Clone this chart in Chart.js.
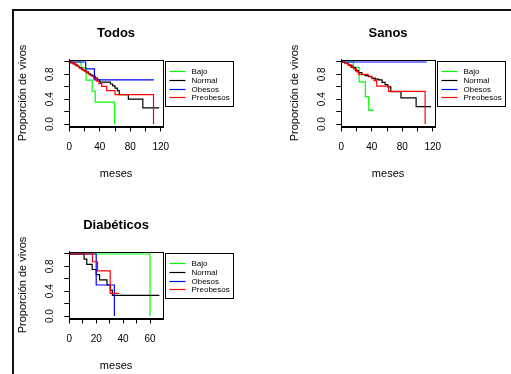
<!DOCTYPE html>
<html><head><meta charset="utf-8">
<script src="https://cdn.jsdelivr.net/npm/chart.js@4.4.1/dist/chart.umd.min.js"></script>
<style>
html,body{margin:0;padding:0;background:#fff;overflow:hidden;width:511px;height:374px;}
#frame{position:absolute;left:12px;top:9px;width:1000px;height:1000px;border:2px solid #111;}
canvas{position:absolute;}
</style></head><body>
<div id="frame"></div>
<canvas id="c1" width="272" height="192" style="left:13px;top:10px"></canvas>
<canvas id="c2" width="272" height="192" style="left:285px;top:10px"></canvas>
<canvas id="c3" width="272" height="192" style="left:13px;top:202px"></canvas>
<script>
const groups = ['Bajo', 'Normal', 'Obesos', 'Preobesos'];
const groupColors = ['#00ff00', '#000000', '#0000ff', '#ff0000'];
const panelTitles = ['Todos', 'Sanos', 'Diabéticos'];
const xAxisTitle = 'meses';
const yAxisTitle = 'Proporción de vivos';

// Todos
const todosBajoT = [0, 15.4, 22, 30, 34, 59.5];
const todosBajoS = [1, 0.909, 0.707, 0.53, 0.354, 0];
const todosNormalT = [0, 2, 5, 8, 11, 13, 16, 19, 22, 25, 28, 31, 34, 37, 40, 54, 57, 60, 63, 65.5, 77.5, 96.5, 118];
const todosNormalS = [1, 0.985, 0.97, 0.95, 0.93, 0.91, 0.88, 0.86, 0.84, 0.81, 0.79, 0.77, 0.74, 0.71, 0.675, 0.645, 0.615, 0.58, 0.537, 0.475, 0.40, 0.26, 0.26];
const todosObesosT = [0, 21.5, 33, 111];
const todosObesosS = [1, 0.889, 0.711, 0.711];
const todosPreobesosT = [0, 4, 7, 10, 13, 17, 20, 23, 26, 29, 32, 36, 39, 42.5, 49, 60, 110.5];
const todosPreobesosS = [1, 0.98, 0.96, 0.93, 0.90, 0.87, 0.85, 0.82, 0.79, 0.77, 0.73, 0.69, 0.65, 0.607, 0.537, 0.473, 0];

// Sanos
const sanosBajoT = [0, 16, 23.5, 31.5, 36, 42.5];
const sanosBajoS = [1, 0.91, 0.68, 0.44, 0.22, 0.22];
const sanosNormalT = [0, 5, 9.5, 14, 18.5, 22.5, 27, 31.5, 36, 40, 44.5, 49, 53.5, 57.5, 61, 65, 78.3, 98.2, 117.7];
const sanosNormalS = [1, 0.978, 0.95, 0.913, 0.86, 0.83, 0.795, 0.78, 0.763, 0.74, 0.725, 0.71, 0.67, 0.634, 0.60, 0.52, 0.42, 0.28, 0.28];
const sanosObesosT = [0, 112];
const sanosObesosS = [1, 1];
const sanosPreobesosT = [0, 5, 9, 12, 16, 20, 23, 35, 40, 43, 46.5, 62, 110];
const sanosPreobesosS = [1, 0.975, 0.95, 0.92, 0.89, 0.84, 0.80, 0.77, 0.73, 0.70, 0.61, 0.525, 0];

// Diabéticos
const diabBajoT = [0, 60];
const diabBajoS = [1, 0];
const diabNormalT = [0, 11, 13, 17, 20, 22.5, 28, 30.5, 32, 67];
const diabNormalS = [1, 0.917, 0.833, 0.75, 0.667, 0.583, 0.5, 0.417, 0.333, 0.333];
const diabObesosT = [0, 20, 33.5];
const diabObesosS = [1, 0.5, 0];
const diabPreobesosT = [0, 17.2, 21, 30.4, 37.2];
const diabPreobesosS = [1, 0.875, 0.729, 0.364, 0.364];

// ticks
const xTicksLong = [0, 20, 40, 60, 80, 100, 120];
const xLabelsLong = ['0', '', '40', '', '80', '', '120'];
const xTicksShort = [0, 10, 20, 30, 40, 50, 60];
const xLabelsShort = ['0', '', '20', '', '40', '', '60'];
const yTicks = [0, 0.2, 0.4, 0.6, 0.8, 1.0];
const yLabels = ['0.0', '', '0.4', '', '0.8', ''];

const FAM = "'Liberation Sans', Arial, sans-serif";

const decor = {
  id: 'decor',
  afterDraw(chart) {
    const {ctx, chartArea: a} = chart;
    const r = v => Math.round(v) + 0.5;
    ctx.save();
    ctx.strokeStyle = '#000';
    ctx.lineWidth = 1;
    const L = r(a.left), R = r(a.right), T = r(a.top), B = r(a.bottom);
    ctx.strokeRect(L, T, R - L, B - T);
    // title
    ctx.fillStyle = '#000';
    ctx.font = 'bold 13px ' + FAM;
    ctx.textAlign = 'center';
    ctx.textBaseline = 'middle';
    ctx.fillText(chart.options.plugins.decor.title, (a.left + a.right) / 2, a.top - 26.3);
    // legend
    const lx = r(a.right + 2), ly = r(a.top + 1.2), lw = 68, lh = 45;
    ctx.strokeStyle = '#000';
    ctx.strokeRect(lx, ly, lw, lh);
    ctx.font = '8px ' + FAM;
    ctx.textAlign = 'left';
    groups.forEach((g, i) => {
      const y = Math.round(ly + 9.5 + i * 8.8) + 0.5;
      ctx.strokeStyle = groupColors[i];
      ctx.lineWidth = 1.2;
      ctx.beginPath();
      ctx.moveTo(lx + 4, y);
      ctx.lineTo(lx + 20, y);
      ctx.stroke();
      ctx.fillStyle = '#000';
      ctx.fillText(g, lx + 26, y);
    });
    ctx.restore();
  }
};

function makePanel(id, title, T, S, xMax, xTicks, xLabels) {
  new Chart(document.getElementById(id), {
    type: 'line',
    data: {
      datasets: groups.map((g, i) => ({
        label: g,
        data: T[i].map((t, k) => ({x: t, y: S[i][k]})),
        borderColor: groupColors[i],
        backgroundColor: groupColors[i],
        borderWidth: 1.2,
        pointRadius: 0,
        stepped: true,
        fill: false,
        order: 3 - i
      }))
    },
    options: {
      responsive: false,
      animation: false,
      devicePixelRatio: 1,
      layout: {padding: {left: 0, top: 49.5, right: 122.2, bottom: 0}},
      plugins: {legend: {display: false}, tooltip: {enabled: false}, decor: {title: title}},
      scales: {
        x: {
          type: 'linear', min: 0, max: xMax,
          afterBuildTicks: sc => { sc.ticks = xTicks.map(v => ({value: v})); },
          afterFit: sc => { sc.height = 75.5; },
          ticks: {autoSkip: false, minRotation: 0, maxRotation: 0, padding: 9.5, color: '#000',
                  font: {family: FAM, size: 10}, callback: (v, i) => xLabels[i]},
          grid: {drawOnChartArea: false, tickLength: 5, color: '#000'},
          border: {display: true, color: '#000'},
          title: {display: true, text: xAxisTitle, color: '#000', font: {family: FAM, size: 11},
                  padding: {top: 0, bottom: 21.7}}
        },
        y: {
          type: 'linear', min: -0.04, max: 1.04,
          afterBuildTicks: sc => { sc.ticks = yTicks.map(v => ({value: v})); },
          afterFit: sc => { sc.width = 56.3; },
          ticks: {autoSkip: false, minRotation: 90, maxRotation: 90, crossAlign: 'center', padding: 7.2,
                  color: '#000', font: {family: FAM, size: 10}, callback: (v, i) => yLabels[i]},
          grid: {drawOnChartArea: false, tickLength: 5, color: '#000'},
          border: {display: true, color: '#000'},
          title: {display: true, text: yAxisTitle, color: '#000', font: {family: FAM, size: 11},
                  padding: {top: 3.4, bottom: 0}}
        }
      }
    },
    plugins: [decor]
  });
}

makePanel('c1', panelTitles[0],
  [todosBajoT, todosNormalT, todosObesosT, todosPreobesosT],
  [todosBajoS, todosNormalS, todosObesosS, todosPreobesosS],
  122.7, xTicksLong, xLabelsLong);
makePanel('c2', panelTitles[1],
  [sanosBajoT, sanosNormalT, sanosObesosT, sanosPreobesosT],
  [sanosBajoS, sanosNormalS, sanosObesosS, sanosPreobesosS],
  122.7, xTicksLong, xLabelsLong);
makePanel('c3', panelTitles[2],
  [diabBajoT, diabNormalT, diabObesosT, diabPreobesosT],
  [diabBajoS, diabNormalS, diabObesosS, diabPreobesosS],
  69.5, xTicksShort, xLabelsShort);
</script>
</body></html>
